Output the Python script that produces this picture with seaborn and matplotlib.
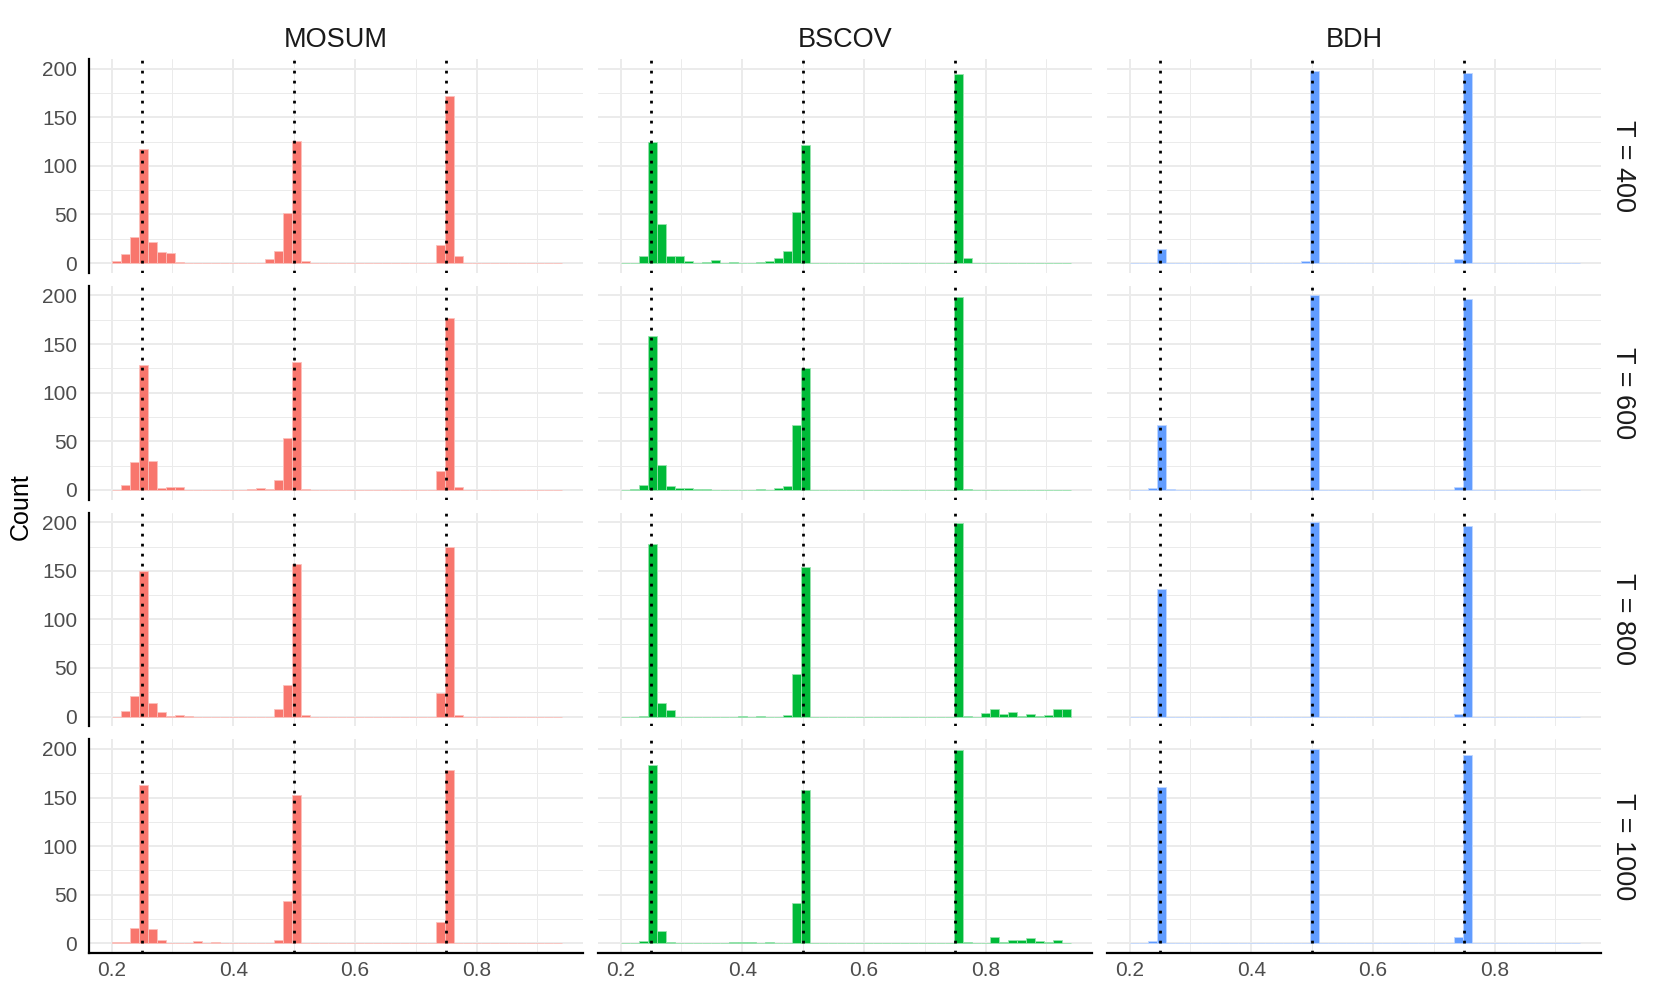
import numpy as np
import pandas as pd
import matplotlib
matplotlib.use("Agg")
import matplotlib.pyplot as plt
import seaborn as sns

# facets
methods = ["MOSUM", "BSCOV", "BDH"]
sample_sizes = ["T = 400", "T = 600", "T = 800", "T = 1000"]
colors = ["#F8766D", "#00BA38", "#619CFF"]
edge_colors = ["#FBC1BC", "#99E3AF", "#C0D7FF"]
true_cps = [0.25, 0.5, 0.75]

# histogram bins (50 bins starting at 0.2)
bin_start = 0.2
bin_width = 0.01482
n_bins = 50

# counts per bin
mosum_400 = [2, 9, 27, 117, 22, 11, 10, 1, 0, 0,
             0, 0, 0, 0, 0, 0, 0, 4, 12, 52,
             126, 2, 0, 0, 0, 0, 0, 0, 0, 0,
             0, 0, 0, 0, 0, 0, 19, 172, 7, 0,
             0, 0, 0, 0, 0, 0, 0, 0, 0, 0]
bscov_400 = [0, 0, 7, 125, 40, 7, 7, 2, 0, 1,
             3, 0, 1, 0, 0, 1, 2, 5, 12, 53,
             122, 0, 0, 0, 0, 0, 0, 0, 0, 0,
             0, 0, 0, 0, 0, 0, 0, 195, 5, 0,
             0, 0, 0, 0, 0, 0, 0, 0, 0, 0]
bdh_400 = [0, 0, 0, 14, 0, 0, 0, 0, 0, 0,
           0, 0, 0, 0, 0, 0, 0, 0, 0, 2,
           198, 0, 0, 0, 0, 0, 0, 0, 0, 0,
           0, 0, 0, 0, 0, 0, 4, 196, 0, 0,
           0, 0, 0, 0, 0, 0, 0, 0, 0, 0]

mosum_600 = [0, 5, 29, 128, 30, 2, 3, 3, 0, 0,
             0, 0, 0, 0, 0, 1, 2, 1, 10, 53,
             132, 1, 0, 0, 0, 0, 0, 0, 0, 0,
             0, 0, 0, 0, 0, 0, 19, 177, 3, 0,
             0, 0, 0, 0, 0, 0, 0, 0, 0, 0]
bscov_600 = [0, 1, 5, 158, 26, 4, 2, 2, 1, 1,
             0, 0, 0, 0, 0, 1, 0, 2, 4, 67,
             125, 0, 0, 0, 0, 0, 0, 0, 0, 0,
             0, 0, 0, 0, 0, 0, 0, 198, 1, 0,
             0, 0, 0, 0, 0, 0, 0, 0, 0, 0]
bdh_600 = [0, 0, 2, 67, 1, 0, 0, 0, 0, 0,
           0, 0, 0, 0, 0, 0, 0, 0, 0, 0,
           200, 0, 0, 0, 0, 0, 0, 0, 0, 0,
           0, 0, 0, 0, 0, 0, 3, 196, 0, 0,
           0, 0, 0, 0, 0, 0, 0, 0, 0, 0]

mosum_800 = [0, 6, 21, 150, 14, 5, 1, 2, 1, 0,
             0, 0, 0, 0, 0, 0, 0, 0, 8, 33,
             157, 2, 0, 0, 0, 0, 0, 0, 0, 0,
             0, 0, 0, 0, 0, 0, 24, 174, 2, 0,
             0, 0, 0, 0, 0, 0, 0, 0, 0, 0]
bscov_800 = [0, 0, 1, 178, 14, 7, 0, 0, 0, 0,
             0, 0, 0, 1, 0, 1, 0, 0, 2, 44,
             154, 0, 0, 0, 0, 0, 0, 0, 0, 0,
             0, 0, 0, 0, 0, 0, 0, 199, 1, 0,
             4, 8, 3, 5, 1, 3, 1, 2, 8, 8]
bdh_800 = [0, 0, 0, 131, 0, 0, 0, 0, 0, 0,
           0, 0, 0, 0, 0, 0, 0, 0, 0, 0,
           200, 0, 0, 0, 0, 0, 0, 0, 0, 0,
           0, 0, 0, 0, 0, 0, 3, 196, 0, 0,
           0, 0, 0, 0, 0, 0, 0, 0, 0, 0]

mosum_1000 = [1, 1, 16, 163, 15, 3, 0, 0, 0, 2,
              0, 1, 0, 0, 0, 0, 0, 0, 3, 44,
              153, 0, 0, 0, 0, 0, 0, 0, 0, 0,
              0, 0, 0, 0, 0, 0, 22, 178, 0, 0,
              0, 0, 0, 0, 0, 0, 0, 0, 0, 0]
bscov_1000 = [0, 0, 2, 184, 13, 1, 0, 0, 0, 0,
              0, 0, 1, 1, 1, 0, 1, 0, 0, 42,
              158, 0, 0, 0, 0, 0, 0, 0, 0, 0,
              0, 0, 0, 0, 0, 0, 0, 199, 1, 0,
              0, 6, 1, 3, 3, 5, 2, 1, 3, 0]
bdh_1000 = [0, 0, 2, 161, 0, 0, 0, 0, 0, 0,
            0, 0, 0, 0, 0, 0, 0, 0, 0, 0,
            200, 0, 0, 0, 0, 0, 0, 0, 0, 0,
            0, 0, 0, 0, 0, 0, 6, 194, 0, 0,
            0, 0, 0, 0, 0, 0, 0, 0, 0, 0]

counts = [
    [mosum_400, bscov_400, bdh_400],
    [mosum_600, bscov_600, bdh_600],
    [mosum_800, bscov_800, bdh_800],
    [mosum_1000, bscov_1000, bdh_1000],
]

bin_lo = bin_start
bin_hi = bin_start + n_bins * bin_width
bin_mids = bin_start + bin_width * (np.arange(n_bins) + 0.5)

sns.set_theme(style="white")
plt.rcParams['font.family'] = ['Liberation Sans', 'DejaVu Sans']

fig, axes = plt.subplots(4, 3, figsize=(16.61, 9.97), dpi=100, sharex=True, sharey=True)
fig.subplots_adjust(left=0.0536, right=0.9639, top=0.9408, bottom=0.0441,
                    wspace=0.0304, hspace=0.0607)

for i in range(4):
    for j in range(3):
        ax = axes[i, j]
        df = pd.DataFrame({'location': bin_mids, 'n': counts[i][j]})
        sns.histplot(data=df, x='location', weights='n', bins=n_bins,
                     binrange=(bin_lo, bin_hi), ax=ax,
                     color=colors[j], alpha=1, edgecolor=edge_colors[j], linewidth=0.6)
        for cp in true_cps:
            ax.axvline(cp, color='black', lw=2, linestyle=(0, (1, 2.6)), zorder=4)

        ax.set_xlim(0.163, 0.975)
        ax.set_ylim(-10, 210)
        ax.set_xticks([0.2, 0.4, 0.6, 0.8])
        ax.set_xticks([0.3, 0.5, 0.7, 0.9], minor=True)
        ax.set_yticks([0, 50, 100, 150, 200])
        ax.set_yticks([25, 75, 125, 175], minor=True)
        ax.set_xticklabels(['0.2', '0.4', '0.6', '0.8'])
        ax.set_axisbelow(True)
        ax.grid(which='major', color='#EBEBEB', lw=1.4)
        ax.grid(which='minor', color='#EBEBEB', lw=0.7)
        ax.tick_params(which='both', length=0)
        ax.tick_params(axis='x', labelsize=15, labelcolor='#4D4D4D', pad=6)
        ax.tick_params(axis='y', labelsize=15, labelcolor='#4D4D4D', pad=8.5)
        ax.set_xlabel('')
        ax.set_ylabel('')
        for s in ax.spines.values():
            s.set_visible(False)
        if j == 0:
            ax.spines['left'].set_visible(True)
            ax.spines['left'].set_color('black')
            ax.spines['left'].set_linewidth(1.6)
        if i == 3:
            ax.spines['bottom'].set_visible(True)
            ax.spines['bottom'].set_color('black')
            ax.spines['bottom'].set_linewidth(1.6)
        if i == 0:
            ax.set_title(methods[j], fontsize=19.5, color='#1A1A1A', pad=9)
        if j == 2:
            ax.text(1.045, 0.5, sample_sizes[i], transform=ax.transAxes, rotation=-90,
                    ha='center', va='center', fontsize=19.5, color='#1A1A1A')

fig.text(0.0127, 0.492, 'Count', rotation=90, ha='center', va='center',
         fontsize=18, color='black')

plt.savefig('out.png', dpi=100)
